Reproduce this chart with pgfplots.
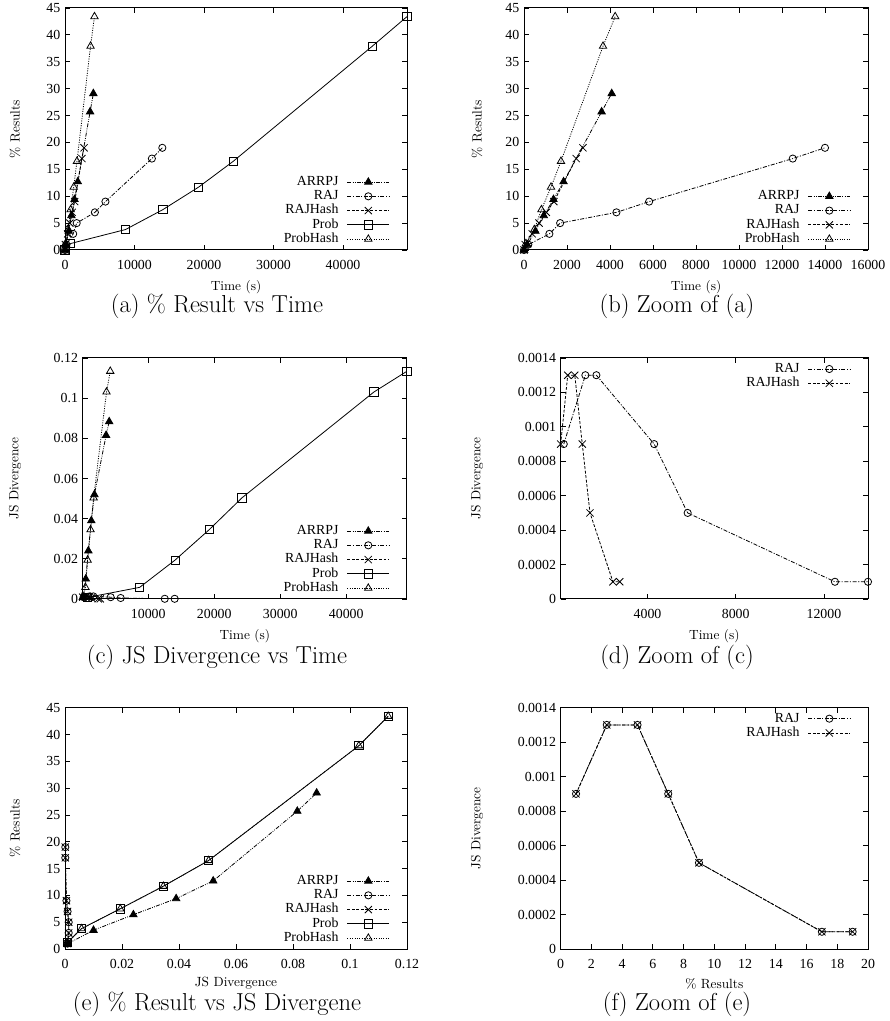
\documentclass[border=0pt]{standalone}
\usepackage{fontspec}
\usepackage{pgfplots}
\usepackage{pgfplotstable}
\pgfplotsset{compat=1.18}
\newfontfamily\timesfont{Liberation Serif}
\newcommand\gfont{\timesfont\fontsize{10.4}{12}\selectfont}
\newcommand\capfont{\fontsize{18.4}{22}\selectfont}

\pgfplotstableread{
t p js
0 0 nan
150 1.0 0.0010
530 3.5 0.0100
920 6.4 0.0240
1370 9.4 0.0390
1840 12.7 0.0520
3610 25.7 0.0815
4080 29.1 0.0883
}\arrpj
\pgfplotstableread{
t p js
0 0 nan
200 1 0.0009
1180 3 0.0013
1680 5 0.0013
4300 7 0.0009
5820 9 0.0005
12500 17 0.0001
14000 19 0.0001
}\raj
\pgfplotstableread{
t p js
0 0 nan
60 1 0.0009
380 3 0.0013
700 5 0.0013
1040 7 0.0009
1390 9 0.0005
2430 17 0.0001
2740 19 0.0001
}\rajhash
\pgfplotstableread{
t p js
0 0 nan
800 1.2 0.0008
8700 3.8 0.0058
14070 7.5 0.0194
19230 11.7 0.0345
24210 16.5 0.0504
44210 37.9 0.1031
49200 43.4 0.1134
}\prob
\pgfplotstableread{
t p js
0 0 nan
90 1.2 0.0008
480 3.8 0.0058
810 7.5 0.0194
1256 11.7 0.0345
1720 16.5 0.0504
3675 37.9 0.1031
4240 43.4 0.1134
}\probhash

\pgfplotsset{
  base/.style={
    scale only axis, clip mode=individual,
    tick align=inside, xtick pos=both, ytick pos=both,
    xticklabel pos=lower, yticklabel pos=left,
    axis line style={line width=0.75pt},
    major tick length=4pt, minor tick num=0,
    every tick/.style={black, line width=0.6pt},
    tick label style={font=\gfont},
    label style={font=\gfont},
    xticklabel style={yshift=-4pt},
    scaled x ticks=false, scaled y ticks=false,
    /pgf/number format/fixed,
    /pgf/number format/precision=4,
    /pgf/number format/1000 sep={},
    /pgf/number format/assume math mode=true,
    legend cell align=right, legend plot pos=right,
    legend style={draw=none, fill=none, font=\gfont, inner sep=0pt,
      row sep=0pt, column sep=5.5pt,
      nodes={inner sep=0.85pt, text height=7pt, text depth=2pt}},
    legend image code/.code={\draw[mark repeat=2,mark phase=2,##1] plot coordinates {(0pt,0pt) (15.75pt,0pt) (31.5pt,0pt)};},
    every axis x label/.style={at={(rel axis cs:0.5,0)}, anchor=center, yshift=-28pt},
  },
  ylab/.style={every axis y label/.style={at={(axis description cs:#1,0.5)}, rotate=90, anchor=center}},
  legB/.style={legend style={at={(rel axis cs:1,0)}, anchor=south east, xshift=-12.75pt, yshift=2.6pt}},
  legT/.style={legend style={at={(rel axis cs:1,1)}, anchor=north east, xshift=-12.75pt, yshift=-2.7pt}},
  sARRPJ/.style={black, line width=0.6pt, dash pattern=on 3pt off 1pt on 0.6pt off 1pt on 0.6pt off 1pt, mark=triangle*, mark size=3.2pt, mark options={solid, fill=black}},
  sRAJ/.style={black, line width=0.6pt, dash pattern=on 3pt off 1.2pt on 0.8pt off 1.2pt, mark=o, mark size=2.7pt, mark options={solid}},
  sRAJH/.style={black, line width=0.6pt, dash pattern=on 2.2pt off 1.2pt, mark=x, mark size=3.8pt, mark options={solid}},
  sPROB/.style={black, line width=0.6pt, solid, mark=square, mark size=3.1pt, mark options={solid}},
  sPROBH/.style={black, line width=0.6pt, dash pattern=on 0.8pt off 1pt, mark=triangle, mark size=3.2pt, mark options={solid}},
}

\begin{document}
\begin{tikzpicture}
\useasboundingbox (0,0) rectangle (666.75pt,765.75pt);

% (a)
\begin{axis}[base, at={(48.75pt,578.25pt)}, anchor=south west,
  width=256.5pt, height=181.5pt,
  xmin=0, xmax=49200, ymin=0, ymax=45,
  xtick={0,10000,20000,30000,40000}, ytick={0,5,10,15,20,25,30,35,40,45},
  xlabel={Time (s)}, ylabel={\% Results}, ylab=-0.1462, legB]
\addplot[sARRPJ] table[x=t,y=p]{\arrpj};
\addplot[sRAJ] table[x=t,y=p]{\raj};
\addplot[sRAJH] table[x=t,y=p]{\rajhash};
\addplot[sPROB] table[x=t,y=p]{\prob};
\addplot[sPROBH] table[x=t,y=p]{\probhash};
\legend{ARRPJ,RAJ,RAJHash,Prob,ProbHash}
\end{axis}
\node[font=\capfont] at (162.75pt,536pt) {(a) \% Result vs Time};

% (b)
\begin{axis}[base, at={(393pt,578.25pt)}, anchor=south west,
  width=258pt, height=181.5pt,
  xmin=0, xmax=16000, ymin=0, ymax=45,
  xtick={0,2000,4000,6000,8000,10000,12000,14000,16000}, ytick={0,5,10,15,20,25,30,35,40,45},
  xlabel={Time (s)}, ylabel={\% Results}, ylab=-0.1366, legB]
\addplot[sARRPJ] table[x=t,y=p]{\arrpj};
\addplot[sRAJ] table[x=t,y=p]{\raj};
\addplot[sRAJH] table[x=t,y=p]{\rajhash};
\addplot[sPROBH] table[x=t,y=p]{\probhash};
\legend{ARRPJ,RAJ,RAJHash,ProbHash}
\end{axis}
\node[font=\capfont] at (507.75pt,536pt) {(b) Zoom of (a)};

% (c)
\begin{axis}[base, at={(62pt,316.5pt)}, anchor=south west,
  width=243.2pt, height=180.75pt,
  xmin=60, xmax=49200, ymin=0, ymax=0.12,
  xtick={10000,20000,30000,40000}, ytick={0,0.02,0.04,0.06,0.08,0.1,0.12},
  xlabel={Time (s)}, ylabel={JS Divergence}, ylab=-0.2088, legB]
\addplot[sARRPJ] table[x=t,y=js]{\arrpj};
\addplot[sRAJ] table[x=t,y=js]{\raj};
\addplot[sRAJH] table[x=t,y=js]{\rajhash};
\addplot[sPROB] table[x=t,y=js]{\prob};
\addplot[sPROBH] table[x=t,y=js]{\probhash};
\legend{ARRPJ,RAJ,RAJHash,Prob,ProbHash}
\end{axis}
\node[font=\capfont] at (162.75pt,273pt) {(c) JS Divergence vs Time};

% (d)
\begin{axis}[base, at={(420.5pt,316.5pt)}, anchor=south west,
  width=230.5pt, height=180.75pt,
  xmin=60, xmax=14000, ymin=0, ymax=0.0014,
  xtick={4000,8000,12000}, ytick={0,0.0002,0.0004,0.0006,0.0008,0.001,0.0012,0.0014},
  xlabel={Time (s)}, ylabel={JS Divergence}, ylab=-0.2724, legT]
\addplot[sRAJ] table[x=t,y=js]{\raj};
\addplot[sRAJH] table[x=t,y=js]{\rajhash};
\legend{RAJ,RAJHash}
\end{axis}
\node[font=\capfont] at (507.75pt,273pt) {(d) Zoom of (c)};

% (e)
\begin{axis}[base, at={(48.75pt,54pt)}, anchor=south west,
  width=256.5pt, height=181pt,
  xmin=0, xmax=0.12, ymin=0, ymax=45,
  xtick={0,0.02,0.04,0.06,0.08,0.1,0.12}, ytick={0,5,10,15,20,25,30,35,40,45},
  xlabel={JS Divergence}, ylabel={\% Results}, ylab=-0.1462, legB,
  every axis x label/.style={at={(rel axis cs:0.5,0)}, anchor=center, yshift=-26pt}]
\addplot[sARRPJ] table[x=js,y=p]{\arrpj};
\addplot[sRAJ] table[x=js,y=p]{\raj};
\addplot[sRAJH] table[x=js,y=p]{\rajhash};
\addplot[sPROB] table[x=js,y=p]{\prob};
\addplot[sPROBH] table[x=js,y=p]{\probhash};
\legend{ARRPJ,RAJ,RAJHash,Prob,ProbHash}
\end{axis}
\node[font=\capfont] at (162.75pt,12.3pt) {(e) \% Result vs JS Divergene};

% (f)
\begin{axis}[base, at={(420.5pt,54pt)}, anchor=south west,
  width=230.5pt, height=181pt,
  xmin=0, xmax=20, ymin=0, ymax=0.0014,
  xtick={0,2,4,6,8,10,12,14,16,18,20}, ytick={0,0.0002,0.0004,0.0006,0.0008,0.001,0.0012,0.0014},
  xlabel={\% Results}, ylabel={JS Divergence}, ylab=-0.2724, legT,
  every axis x label/.style={at={(rel axis cs:0.5,0)}, anchor=center, yshift=-26pt}]
\addplot[sRAJ] table[x=p,y=js]{\raj};
\addplot[sRAJH] table[x=p,y=js]{\rajhash};
\legend{RAJ,RAJHash}
\end{axis}
\node[font=\capfont] at (507.75pt,12.3pt) {(f) Zoom of (e)};
\end{tikzpicture}
\end{document}
